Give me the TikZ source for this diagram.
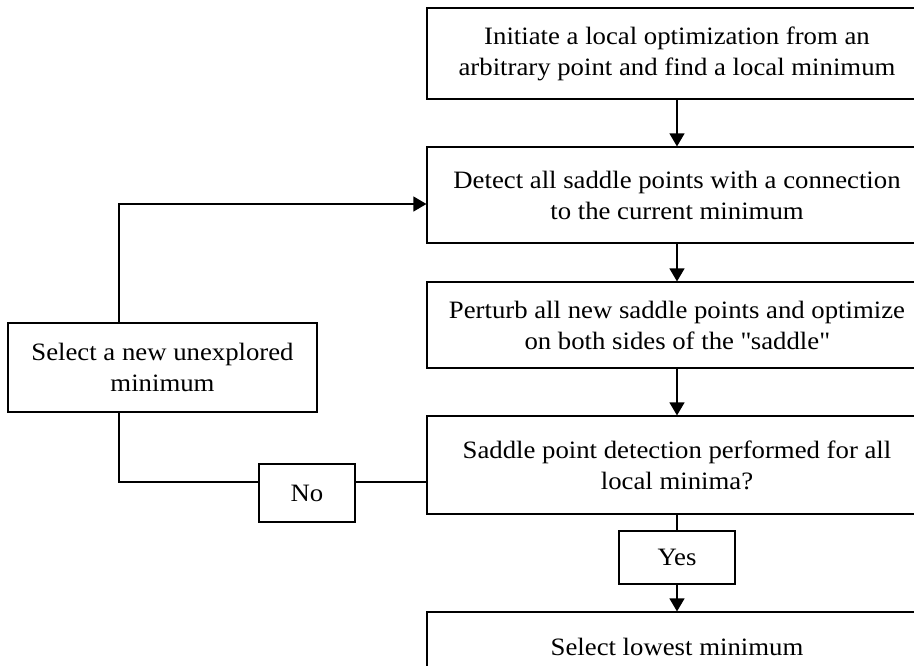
\documentclass[tikz,border=0pt]{standalone}
\usepackage{fontspec}
\setmainfont{Liberation Serif}[FakeStretch=1.07]
\usetikzlibrary{arrows.meta}

\begin{document}
\begin{tikzpicture}[x=1pt,y=-1pt,line width=1.2pt,
		box/.style={draw,align=center,inner sep=0pt,font=\fontsize{25}{31}\selectfont},
		arr/.style={-{Triangle[length=13pt,width=15pt]}}]
		\useasboundingbox (0,0) rectangle (914,665);
		\node[box,minimum width=500pt,minimum height=91pt] (init) at (677,53.5) {Initiate a local optimization from an\\arbitrary point and find a local minimum};
		\node[box,minimum width=500pt,minimum height=96pt] (detect) at (677,195) {Detect all saddle points with a connection\\to the current minimum};
		\node[box,minimum width=500pt,minimum height=86pt] (perturb) at (677,325) {Perturb all new saddle points and optimize\\on both sides of the \textquotedbl saddle\textquotedbl};
		\node[box,minimum width=500pt,minimum height=98pt] (check) at (677,465) {Saddle point detection performed for all\\local minima?};
		\node[box,minimum width=116pt,minimum height=53pt] (yes) at (677,557.5) {Yes};
		\node[box,minimum width=500pt,minimum height=70pt] (lowest) at (677,647) {Select lowest minimum};
		\node[box,minimum width=309pt,minimum height=89pt] (select) at (162.5,367.5) {Select a new unexplored\\minimum};
		\node[box,minimum width=96pt,minimum height=58pt] (no) at (307,493) {No};
		\coordinate (top) at (119,204);
		\coordinate (bend) at (119,482);

		\draw[arr] (init) -- (detect);
		\draw[arr] (detect) -- (perturb);
		\draw[arr] (perturb) -- (check);
		\draw (check) -- (yes);
		\draw[arr] (yes) -- (lowest);
		\draw (check.west |- bend) -- (no.east |- bend);
		\draw (no.west |- bend) -- (bend) -- (select.south -| bend);
		\draw[arr] (select.north -| top) -- (top) -- (detect.west |- top);
	\end{tikzpicture}
\end{document}
